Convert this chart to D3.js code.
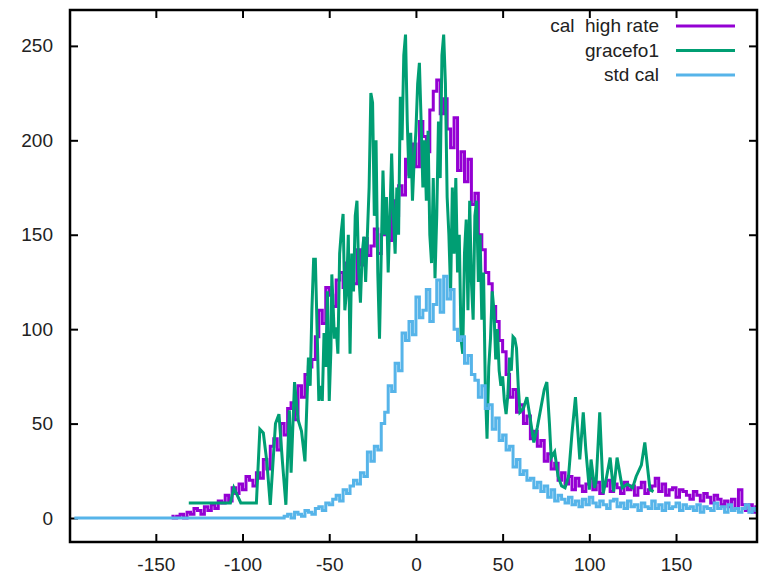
<!DOCTYPE html>
<html>
<head>
<meta charset="utf-8">
<script src="https://cdn.jsdelivr.net/npm/d3@7"></script>
<style>
  body { margin: 0; background: #fff; }
  text { font-family: "Liberation Sans", Arial, sans-serif; }
</style>
</head>
<body>
<svg id="chart" width="763" height="576"></svg>
<script>
// tick labels
const xTicks = [-150, -100, -50, 0, 50, 100, 150];
const yTicks = [0, 50, 100, 150, 200, 250];

// legend
const seriesNames = ["cal  high rate", "gracefo1", "std cal"];
const seriesColors = ["#9400d3", "#009e73", "#56b4e9"];

// cal high rate: bins from -141, width 2
const calStart = -141, calStep = 2;
const calHighRate = [
  1, 0, 1, 2, 0, 3, 2, 5, 4, 2,
  6, 4, 7, 5, 9, 8, 12, 9, 16, 13,
  18, 15, 22, 20, 17, 24, 21, 31, 26, 38,
  42, 36, 50, 44, 58, 61, 52, 70, 64, 76,
  80, 84, 96, 110, 103, 122, 118, 112, 126, 130,
  122, 135, 128, 124, 142, 134, 148, 139, 144, 153,
  140, 150, 158, 147, 168, 160, 176, 171, 190, 182,
  198, 186, 210, 202, 194, 216, 226, 232, 214, 222,
  206, 196, 212, 184, 194, 178, 190, 166, 172, 150,
  142, 130, 124, 112, 104, 94, 88, 76, 64, 68,
  56, 60, 50, 54, 42, 46, 38, 41, 30, 34,
  26, 29, 20, 24, 18, 22, 15, 21, 17, 14,
  18, 21, 15, 19, 13, 17, 20, 14, 18, 16,
  13, 19, 15, 17, 12, 16, 19, 13, 15, 17,
  21, 14, 18, 12, 15, 16, 11, 15, 14, 12,
  10, 14, 12, 9, 13, 11, 8, 12, 10, 7,
  9, 6, 10, 5, 15, 7, 4, 7, 3, 6
];

// std cal: bins from -197, width 2
const stdStart = -197, stdStep = 2;
const stdCal = [
  0, 0, 0, 0, 0, 0, 0, 0, 0, 0,
  0, 0, 0, 0, 0, 0, 0, 0, 0, 0,
  0, 0, 0, 0, 0, 0, 0, 0, 0, 0,
  0, 0, 0, 0, 0, 0, 0, 0, 0, 0,
  0, 0, 0, 0, 0, 0, 0, 0, 0, 0,
  0, 0, 0, 0, 0, 0, 0, 0, 0, 0,
  0,
  1, 2, 0, 3, 2, 1, 4, 3, 2, 5,
  6, 4, 8, 7, 10, 12, 9, 15, 13, 17,
  20, 18, 24, 22, 35, 30, 38, 36, 50, 56,
  70, 67, 82, 78, 98, 94, 104, 97,
  117, 106, 110, 121, 104, 113, 126, 109, 128, 116,
  121, 100, 94, 96, 82, 86, 76, 73, 64, 70,
  58, 60, 47, 53, 41, 44, 36, 38, 27, 31,
  23, 25, 20, 21, 16, 19, 14, 17, 11, 15,
  9, 12, 10, 8, 11, 7, 9, 6, 10, 7,
  11, 8, 6, 9, 7, 5, 9, 10, 6, 8,
  5, 9, 6, 7, 4, 8, 6, 5, 9, 5,
  7, 4, 8, 5, 6, 8, 4, 7, 5, 6,
  4, 7, 3, 6, 5, 4, 8, 5, 6, 3,
  7, 4, 5, 3, 5, 7, 3, 5, 4
];

// gracefo1: irregular samples
const gracefoX = [
  -131, -107, -105, -101, -92, -90, -88, -86, -84, -81,
  -79, -77, -75, -73, -72, -70, -68, -66, -64,
  -62, -61, -60, -59, -58, -57, -56, -55, -54, -53,
  -52, -51, -50, -49, -48.5, -47, -46, -45, -44, -43,
  -42, -41, -40, -39, -38, -37, -36, -35, -34, -33,
  -32, -31, -30, -29, -28, -27, -26, -25, -24, -23,
  -22, -21, -20, -19, -18, -17, -16, -15, -14, -13,
  -12, -11, -10, -9, -8, -7, -6, -5, -4, -3,
  -2, -1, 0, 1, 2, 3, 4, 5, 6, 7,
  8, 9, 10, 11, 12, 13, 14, 15, 16, 17,
  18, 19, 20, 21, 22, 23, 24, 25, 26, 27,
  28, 29, 30, 31, 32, 33, 34, 35, 36, 37,
  38, 39, 40, 41, 42, 43, 44, 45, 46, 47,
  48, 49, 50, 51, 52, 53, 54, 55, 56, 57,
  58, 59, 60, 62, 64, 66, 68, 70, 72, 74,
  75.5, 77, 78, 80, 82, 84, 86, 88, 90, 92,
  94.5, 96.5, 98, 100, 101, 103, 104, 106, 108, 110,
  112, 114, 116, 119, 122, 125, 127, 130, 132, 135,
  137
];
const gracefoY = [
  8, 8, 16, 8, 8, 47, 45, 30, 7, 50,
  55, 30, 7, 57, 24, 72, 52, 46, 30,
  85, 70, 110, 137, 137, 100, 62, 70, 62, 98,
  80, 120, 62, 90, 129, 95, 101, 87, 140, 152,
  161, 110, 120, 150, 87, 140, 120, 160, 168, 130,
  114, 140, 149, 125, 150, 175, 225, 220, 160, 200,
  130, 95, 140, 184, 150, 170, 130, 160, 193, 160,
  140, 175, 150, 223, 200, 245, 256, 210, 180, 204,
  168, 190, 205, 230, 241, 210, 175, 200, 168, 205,
  150, 135, 180, 127, 160, 210, 180, 245, 256, 230,
  170, 150, 120, 175, 140, 180, 130, 150, 95, 87,
  140, 158, 110, 168, 125, 105, 160, 168, 125, 150,
  105, 130, 70, 42, 80, 95, 120, 110, 84, 100,
  78, 70, 75, 62, 55, 65, 85, 78, 96, 95,
  90, 70, 56, 58, 64, 52, 40, 48, 58, 68,
  72, 50, 32, 35, 22, 17, 16, 22, 45, 64,
  31, 56, 36, 15, 31, 16, 20, 56, 13, 22,
  32, 14, 32, 16, 18, 16, 22, 28, 40, 15,
  14
];

const svg = d3.select("#chart");
const margin = { left: 70, right: 757, top: 10, bottom: 542 };

const x = d3.scaleLinear().domain([-199.5, 196.7]).range([margin.left, margin.right]);
const y = d3.scaleLinear().domain([-12.7, 269]).range([margin.bottom, margin.top]);

svg.append("defs").append("clipPath").attr("id", "plotclip")
  .append("rect")
  .attr("x", margin.left).attr("y", margin.top)
  .attr("width", margin.right - margin.left).attr("height", margin.bottom - margin.top);

// axes (ticks point inward, mirrored on top/right)
function styleAxis(g) {
  g.select(".domain").remove();
  g.selectAll(".tick line").attr("stroke", "#000").attr("stroke-width", 2);
  g.selectAll(".tick text").attr("fill", "#222").style("font-size", "19px");
}

const plainNum = d => String(d); // gnuplot uses a hyphen, not a unicode minus

svg.append("g")
  .attr("transform", `translate(0,${margin.bottom})`)
  .call(d3.axisBottom(x).tickValues(xTicks).tickSize(-8).tickPadding(16).tickFormat(plainNum))
  .call(styleAxis);

svg.append("g")
  .attr("transform", `translate(${margin.left},0)`)
  .call(d3.axisLeft(y).tickValues(yTicks).tickSize(-8).tickPadding(17).tickFormat(plainNum))
  .call(styleAxis);

svg.append("g")
  .attr("transform", `translate(0,${margin.top})`)
  .call(d3.axisTop(x).tickValues(xTicks).tickSize(-8).tickFormat(""))
  .call(styleAxis);

svg.append("g")
  .attr("transform", `translate(${margin.right},0)`)
  .call(d3.axisRight(y).tickValues(yTicks).tickSize(-8).tickFormat(""))
  .call(styleAxis);

// series
const calData = calHighRate.map((v, i) => [calStart + i * calStep, v]);
const stdData = stdCal.map((v, i) => [stdStart + i * stdStep, v]);
const graceData = gracefoX.map((v, i) => [v, gracefoY[i]]);

const stepLine = d3.line().x(d => x(d[0])).y(d => y(d[1])).curve(d3.curveStep);
const plainLine = d3.line().x(d => x(d[0])).y(d => y(d[1]));

const plot = svg.append("g").attr("clip-path", "url(#plotclip)");

plot.append("path").datum(calData)
  .attr("d", stepLine).attr("fill", "none")
  .attr("stroke", seriesColors[0]).attr("stroke-width", 3);

plot.append("path").datum(graceData)
  .attr("d", plainLine).attr("fill", "none")
  .attr("stroke", seriesColors[1]).attr("stroke-width", 3);

plot.append("path").datum(stdData)
  .attr("d", stepLine).attr("fill", "none")
  .attr("stroke", seriesColors[2]).attr("stroke-width", 3);

// frame
svg.append("rect")
  .attr("x", margin.left).attr("y", margin.top)
  .attr("width", margin.right - margin.left).attr("height", margin.bottom - margin.top)
  .attr("fill", "none").attr("stroke", "#000").attr("stroke-width", 2.5);

// legend
const legend = svg.append("g");
seriesNames.forEach((name, i) => {
  const ly = 26 + i * 24.5;
  legend.append("text")
    .attr("x", 659).attr("y", ly).attr("dy", "0.32em")
    .attr("text-anchor", "end")
    .style("white-space", "pre")
    .style("font-size", "19px")
    .attr("fill", "#222")
    .text(name);
  legend.append("line")
    .attr("x1", 676).attr("x2", 735)
    .attr("y1", ly).attr("y2", ly)
    .attr("stroke", seriesColors[i]).attr("stroke-width", 3);
});
</script>
</body>
</html>
